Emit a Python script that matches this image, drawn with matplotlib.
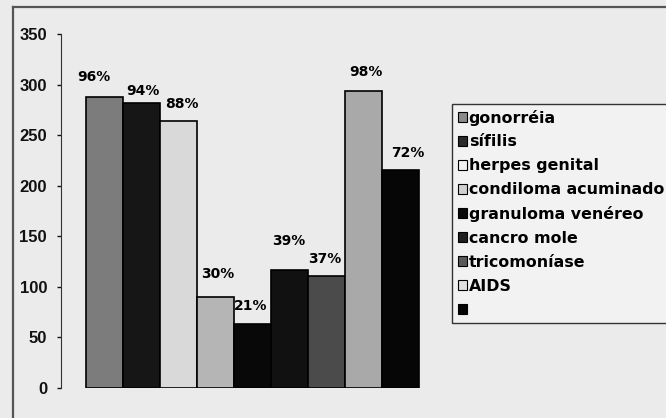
import matplotlib.pyplot as plt
from matplotlib.patches import Patch
from matplotlib.lines import Line2D

# casos por doença (base 300) e percentuais
doencas = ["gonorréia", "sífilis", "herpes genital", "condiloma acuminado",
           "granuloma venéreo", "cancro mole", "tricomoníase", "AIDS", " "]
percentuais = [96, 94, 88, 30, 21, 39, 37, 98, 72]
total = 300
casos = [p * total / 100 for p in percentuais]

cores = ["#7c7c7c", "#161616", "#d9d9d9", "#b5b5b5", "#080808",
         "#111111", "#4b4b4b", "#a9a9a9", "#060606"]
cores_legenda = ["#8a8a8a", "#2a2a2a", "#f2f2f2", "#d0d0d0", "#0a0a0a",
                 "#1e1e1e", "#5a5a5a", "#e0e0e0", "#050505"]

# deslocamento dos rótulos (px): horizontal, vertical acima da barra
rot_dx = [-11, 1, 3, 2, -2, -1, -2, 2, 7]
rot_dy = [20, 12, 17, 23, 18, 29, 17, 19, 17]

W, H = 666, 418
fig = plt.figure(figsize=(W / 100, H / 100), dpi=100)
fig.patch.set_facecolor("#ebebeb")

# moldura do gráfico
fig.add_artist(Line2D([13 / W, 13 / W], [0, 1 - 7 / H], color="#555555", lw=1.6))
fig.add_artist(Line2D([13 / W, 1], [1 - 7 / H, 1 - 7 / H], color="#555555", lw=1.6))

ax = fig.add_axes([61 / W, 30 / H, (440 - 61) / W, (388 - 34) / H])
ax.set_facecolor("none")

px = 37.0  # largura de uma barra em pixels
x = list(range(len(casos)))
ax.bar(x, casos, width=1.0, color=cores, edgecolor="black", linewidth=1.2)
ax.set_xlim(-0.5 - 25 / px, -0.5 - 25 / px + (440 - 61) / px)
ax.set_ylim(0, 350)
ax.set_yticks(range(0, 351, 50))

for i, (v, p) in enumerate(zip(casos, percentuais)):
    ax.annotate(f"{p}%", (i, v), xytext=(rot_dx[i] * 0.72, rot_dy[i] * 0.72),
                textcoords="offset points", ha="center", va="center",
                fontsize=10, fontweight="bold")

for s in ["top", "right", "bottom"]:
    ax.spines[s].set_visible(False)
ax.spines["left"].set_color("#333333")
ax.tick_params(axis="x", bottom=False, labelbottom=False)
ax.tick_params(axis="y", direction="out", length=3, width=1, pad=7,
               labelsize=12, colors="#111111")
for t in ax.get_yticklabels():
    t.set_fontweight("bold")
    t.set_fontfamily("Liberation Sans")

handles = [Patch(facecolor=c, edgecolor="black", linewidth=0.8) for c in cores_legenda]
leg = fig.legend(handles, doencas, loc="upper left",
                 bbox_to_anchor=(452 / W, 1 - 104 / H),
                 frameon=True, fancybox=False, edgecolor="#333333",
                 facecolor="#f2f2f2", framealpha=1,
                 prop={"weight": "bold", "size": 11.4},
                 handlelength=0.6, handleheight=0.6, handletextpad=0.1,
                 labelspacing=0.56, borderpad=0.35, borderaxespad=0)
leg.get_frame().set_linewidth(1.0)

fig.savefig("out.png", dpi=100, facecolor=fig.get_facecolor())
